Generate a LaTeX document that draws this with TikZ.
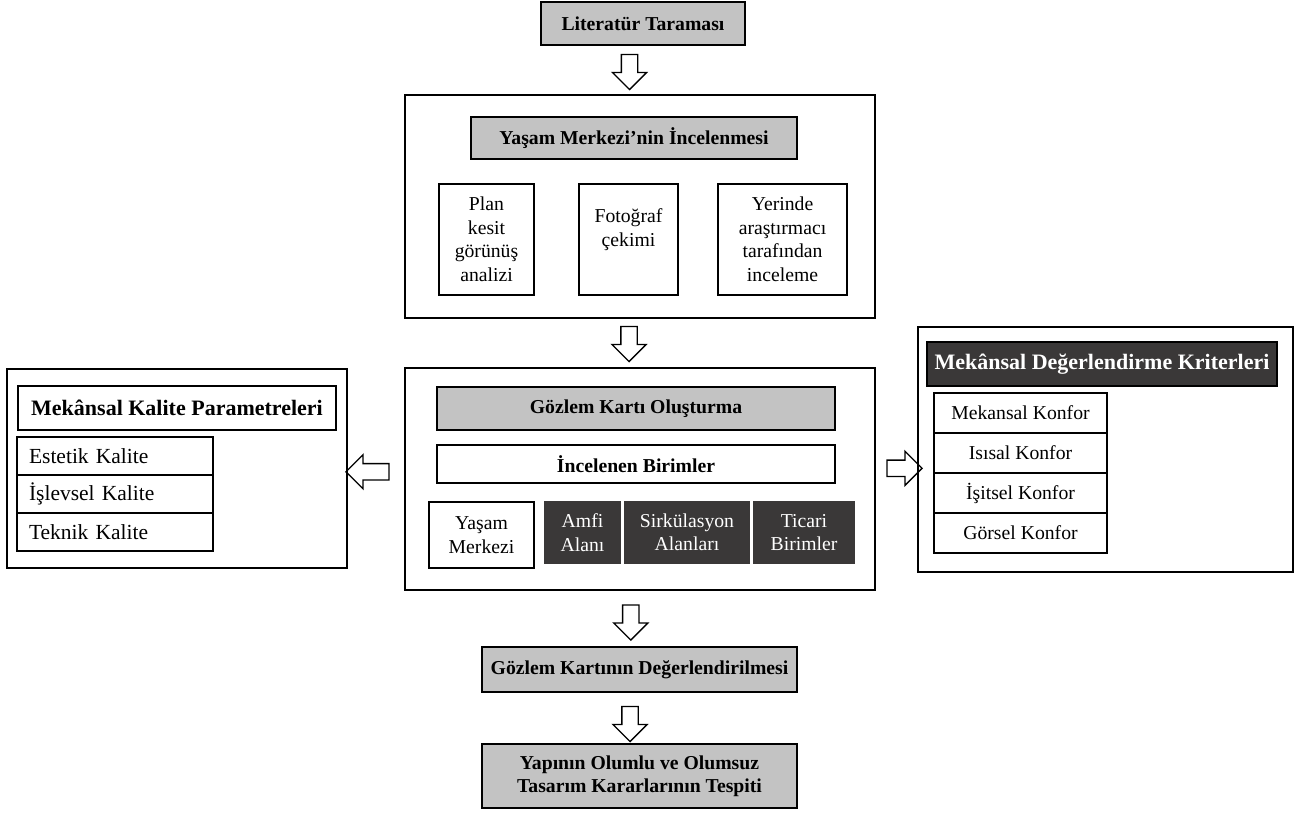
\documentclass[tikz,border=0pt]{standalone}
\usepackage{fontspec}
\setmainfont{Liberation Serif}
\usetikzlibrary{positioning,calc,shapes.arrows}
\definecolor{boxgray}{HTML}{C3C3C3}
\definecolor{boxdark}{HTML}{3A3838}

\begin{document}
\begin{tikzpicture}[x=1pt,y=1pt,
    frame/.style={draw,line width=1.6pt,inner sep=0pt},
    base/.style={draw,line width=1.6pt,inner sep=0pt,align=center,font=\fontsize{19.7}{23.5}\selectfont},
    title/.style={base,fill=boxgray,font=\fontsize{19.7}{23.5}\selectfont\bfseries},
    sidetitle/.style={base,font=\fontsize{22}{26}\selectfont\bfseries,minimum height=44pt},
    unit/.style={base,draw=boxdark,fill=boxdark,text=white,minimum height=61pt},
    lrow/.style={base,align=left,text width=172pt,inner xsep=12pt,minimum height=38pt,font=\fontsize{21.5}{25}\selectfont},
    crow/.style={base,minimum width=173pt,minimum height=40pt},
    blockarr/.style={draw,line width=1.3pt,single arrow,inner sep=7.5pt,minimum height=35pt,single arrow head extend=9pt}
]
\useasboundingbox (0,0) rectangle (1298,-812);

% centre column
\node[title,minimum width=204pt,minimum height=43pt] (lit) at (643,-23.5) {Literatür Taraması};

\node[frame,minimum width=470pt,minimum height=223pt] (insp) at (640,-206.5) {};
\node[title,minimum width=326pt,minimum height=42pt] (ymi) at (634,-138) {Yaşam Merkezi’nin İncelenmesi};
\node[base,minimum width=95pt,minimum height=111pt] (plan) at (486.5,-239.5) {Plan\\kesit\\görünüş\\analizi};
\node[base,minimum width=99pt,minimum height=111pt] (foto) at (628.5,-239.5) {Fotoğraf\\çekimi\\\mbox{}};
\node[base,minimum width=129pt,minimum height=111pt] (yer) at (782.5,-239.5) {Yerinde\\araştırmacı\\tarafından\\inceleme};

\node[frame,minimum width=470pt,minimum height=222pt] (card) at (640,-479) {};
\node[title,minimum width=398pt,minimum height=43pt] (gko) at (636,-408.5) {Gözlem Kartı Oluşturma};
\node[base,font=\fontsize{19.7}{23.5}\selectfont\bfseries,minimum width=398pt,minimum height=38pt] (ib) at (636,-464) {İncelenen Birimler};
\node[base,minimum width=105pt,minimum height=66pt] (ym) at (481.5,-535) {Yaşam\\Merkezi};
\node[unit,minimum width=75pt] (amfi) at (582.5,-532.5) {Amfi\\Alanı};
\node[unit,minimum width=124pt] (sirk) at (687,-532.5) {Sirkülasyon\\Alanları};
\node[unit,minimum width=100pt] (tic) at (804,-532.5) {Ticari\\Birimler};

\node[title,minimum width=315pt,minimum height=45pt] (gkd) at (639.5,-669.5) {Gözlem Kartının Değerlendirilmesi};
\node[title,minimum width=315pt,minimum height=64pt] (tes) at (639.5,-776) {Yapının Olumlu ve Olumsuz\\Tasarım Kararlarının Tespiti};

% left panel
\node[frame,minimum width=340pt,minimum height=199pt] (kal) at (177,-468.5) {};
\node[sidetitle,minimum width=318pt] (mkp) at (177,-408) {Mekânsal Kalite Parametreleri};
\node[lrow] (est) at (115,-456) {Estetik Kalite};
\node[lrow] (isl) at (115,-494) {İşlevsel Kalite};
\node[lrow] (tek) at (115,-532) {Teknik Kalite};

% right panel
\node[frame,minimum width=375pt,minimum height=245pt] (krt) at (1105.5,-449.5) {};
\node[sidetitle,fill=boxdark,text=white,minimum width=350pt] (mdk) at (1102,-364) {Mekânsal Değerlendirme Kriterleri};
\node[crow] (mek) at (1020.5,-413) {Mekansal Konfor};
\node[crow] (isi) at (1020.5,-453) {Isısal Konfor};
\node[crow] (isit) at (1020.5,-493) {İşitsel Konfor};
\node[crow] (gor) at (1020.5,-533) {Görsel Konfor};

% block arrows
\node[blockarr,shape border rotate=270] (a1) at ($(lit.south)!.5!(insp.north)+(-12,2)$) {};
\node[blockarr,shape border rotate=270] (a2) at ($(insp.south)!.5!(card.north)+(-11,3)$) {};
\node[blockarr,shape border rotate=270] (a3) at ($(card.south)!.5!(gkd.north)+(-9,0)$) {};
\node[blockarr,shape border rotate=270] (a4) at ($(gkd.south)!.5!(tes.north)+(-9.5,-2)$) {};
\node[blockarr,shape border rotate=180,minimum height=43pt] (al) at ($(card.west)!.5!(kal.east)+(-4.5,2)$) {};
\node[blockarr] (ar) at ($(card.east)!.5!(krt.west)+(4,-4)$) {};
\end{tikzpicture}
\end{document}
